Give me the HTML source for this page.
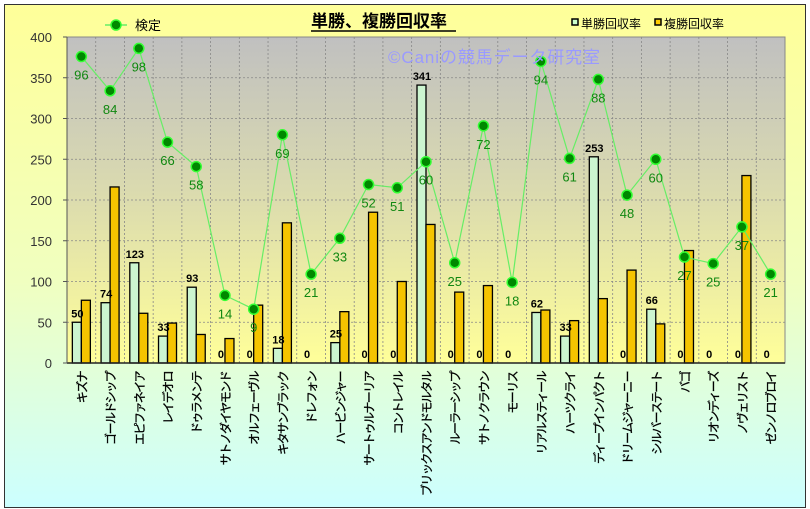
<!DOCTYPE html>
<html><head><meta charset="utf-8"><style>
html,body{margin:0;padding:0;width:810px;height:509px;overflow:hidden;background:#fff}
#c{position:relative;width:810px;height:509px;font-family:"Liberation Sans","Noto Sans CJK JP",sans-serif}
</style></head><body><div id="c">
<svg id="s" width="810" height="509" style="position:absolute;left:0;top:0">
<defs>
<linearGradient id="bg" x1="0" y1="0" x2="0" y2="1"><stop offset="0" stop-color="#ffff99"/><stop offset="0.55" stop-color="#f0ffc0"/><stop offset="1" stop-color="#ccffff"/></linearGradient>
<linearGradient id="pa" x1="0" y1="0" x2="0" y2="1"><stop offset="0" stop-color="#c0c0c0"/><stop offset="0.5" stop-color="#dcdcae"/><stop offset="1" stop-color="#ffff99"/></linearGradient>
</defs>
<rect x="4.5" y="4.5" width="801" height="503" fill="url(#bg)" stroke="#333" stroke-width="1"/>
<rect x="67" y="37" width="718" height="326" fill="url(#pa)" stroke="#888"/>
<g id="g"></g>
<text x="311" y="27" font-size="17" font-weight="bold" font-family="Noto Sans CJK JP,sans-serif" fill="#000">単勝、複勝回収率</text>
<line x1="311" y1="31" x2="456" y2="31" stroke="#000" stroke-width="1.5"/>
<text x="388" y="63" font-size="17" fill="#9a9aff" textLength="212" font-family="Liberation Sans,Noto Sans CJK JP,sans-serif">©Caniの競馬データ研究室</text>
<line x1="105" y1="25" x2="127" y2="25" stroke="#66ee66" stroke-width="1.5"/>
<circle cx="116" cy="25" r="5" fill="#008800" stroke="#33ff33" stroke-width="1.5"/>
<text x="135" y="30" font-size="13" fill="#000" font-family="Noto Sans CJK JP,sans-serif">検定</text>
<rect x="572" y="19" width="6" height="6" fill="#ccffcc" stroke="#000" stroke-width="1.5"/>
<text x="581" y="28" font-size="12" fill="#000" font-family="Noto Sans CJK JP,sans-serif">単勝回収率</text>
<rect x="655" y="19" width="6" height="6" fill="#ffcc00" stroke="#000" stroke-width="1.5"/>
<text x="664" y="28" font-size="12" fill="#000" font-family="Noto Sans CJK JP,sans-serif">複勝回収率</text>
</svg>
</div>
<script>
var names=["キズナ","ゴールドシップ","エピファネイア","レイデオロ","ドゥラメンテ","サトノダイヤモンド","オルフェーヴル","キタサンブラック","ドレフォン","ハービンジャー","サートゥルナーリア","コントレイル","ブリックスアンドモルタル","ルーラーシップ","サトノクラウン","モーリス","リアルスティール","ハーツクライ","ディープインパクト","ドリームジャーニー","シルバーステート","バゴ","リオンディーズ","ノヴェリスト","ゼンノロブロイ"];
var t=[50,74,123,33,93,0,0,18,0,25,0,0,341,0,0,0,62,33,253,0,66,0,0,0,0];
var f=[77,216,61,49,35,30,71,172,0,63,185,100,170,87,95,0,65,52,79,114,48,138,0,230,0];
var ly=[376,334,386,271,241,83,66,280,109,153,219,215,247,123,291,99,370,251,348,206,250,130,122,167,109];
var ll=[96,84,98,66,58,14,9,69,21,33,52,51,60,25,72,18,94,61,88,48,60,27,25,37,21];
var X0=67,W=718/25,Y0=363,K=326/400,h="";
for(var v=50;v<400;v+=50){var y=Y0-v*K;h+='<line x1="67" y1="'+y+'" x2="785" y2="'+y+'" stroke="#888" stroke-dasharray="2,2" stroke-width="0.8"/>';}
for(var i=1;i<25;i++){var x=X0+i*W;h+='<line x1="'+x+'" y1="37" x2="'+x+'" y2="363" stroke="#888" stroke-dasharray="2,2" stroke-width="0.8"/>';}
for(var v=0;v<=400;v+=50){var y=Y0-v*K;h+='<text x="52" y="'+(y+5)+'" font-size="13" text-anchor="end" fill="#333">'+v+'</text><line x1="63" y1="'+y+'" x2="67" y2="'+y+'" stroke="#555"/>';}
for(var i=0;i<25;i++){var c=X0+(i+0.5)*W;
 var th=t[i]*K,fh=f[i]*K;
 if(th>0)h+='<rect x="'+(c-9)+'" y="'+(Y0-th)+'" width="9" height="'+th+'" fill="#ccf5d0" stroke="#000" stroke-width="1.3"/>';
 if(fh>0)h+='<rect x="'+c+'" y="'+(Y0-fh)+'" width="9" height="'+fh+'" fill="#f5c400" stroke="#000" stroke-width="1.3"/>';
 h+='<text x="'+(c-4)+'" y="'+(Y0-th-5)+'" font-size="11" font-weight="bold" text-anchor="middle" fill="#000">'+t[i]+'</text>';
 h+='<text transform="translate('+(c+5)+',372) rotate(-90)" text-anchor="end" font-size="12" letter-spacing="-1.6" fill="#000" stroke="#000" stroke-width="0.3" font-family="Noto Sans CJK JP,sans-serif">'+names[i]+'</text>';}
var pts=[];for(var i=0;i<25;i++)pts.push((X0+(i+0.5)*W)+","+(Y0-ly[i]*K));
h+='<polyline points="'+pts.join(" ")+'" fill="none" stroke="#66ee66" stroke-width="1.2"/>';
for(var i=0;i<25;i++){var c=X0+(i+0.5)*W,y=Y0-ly[i]*K;
 h+='<circle cx="'+c+'" cy="'+y+'" r="5" fill="#008800" stroke="#33ff33" stroke-width="1.5"/>';
 h+='<text x="'+c+'" y="'+(y+23)+'" font-size="13" text-anchor="middle" fill="#118811">'+ll[i]+'</text>';}
h+='<line x1="67" y1="363" x2="785" y2="363" stroke="#222" stroke-width="1.5"/><line x1="67" y1="37" x2="67" y2="363" stroke="#555"/>';
document.getElementById("g").innerHTML=h;
</script>
</body></html>
